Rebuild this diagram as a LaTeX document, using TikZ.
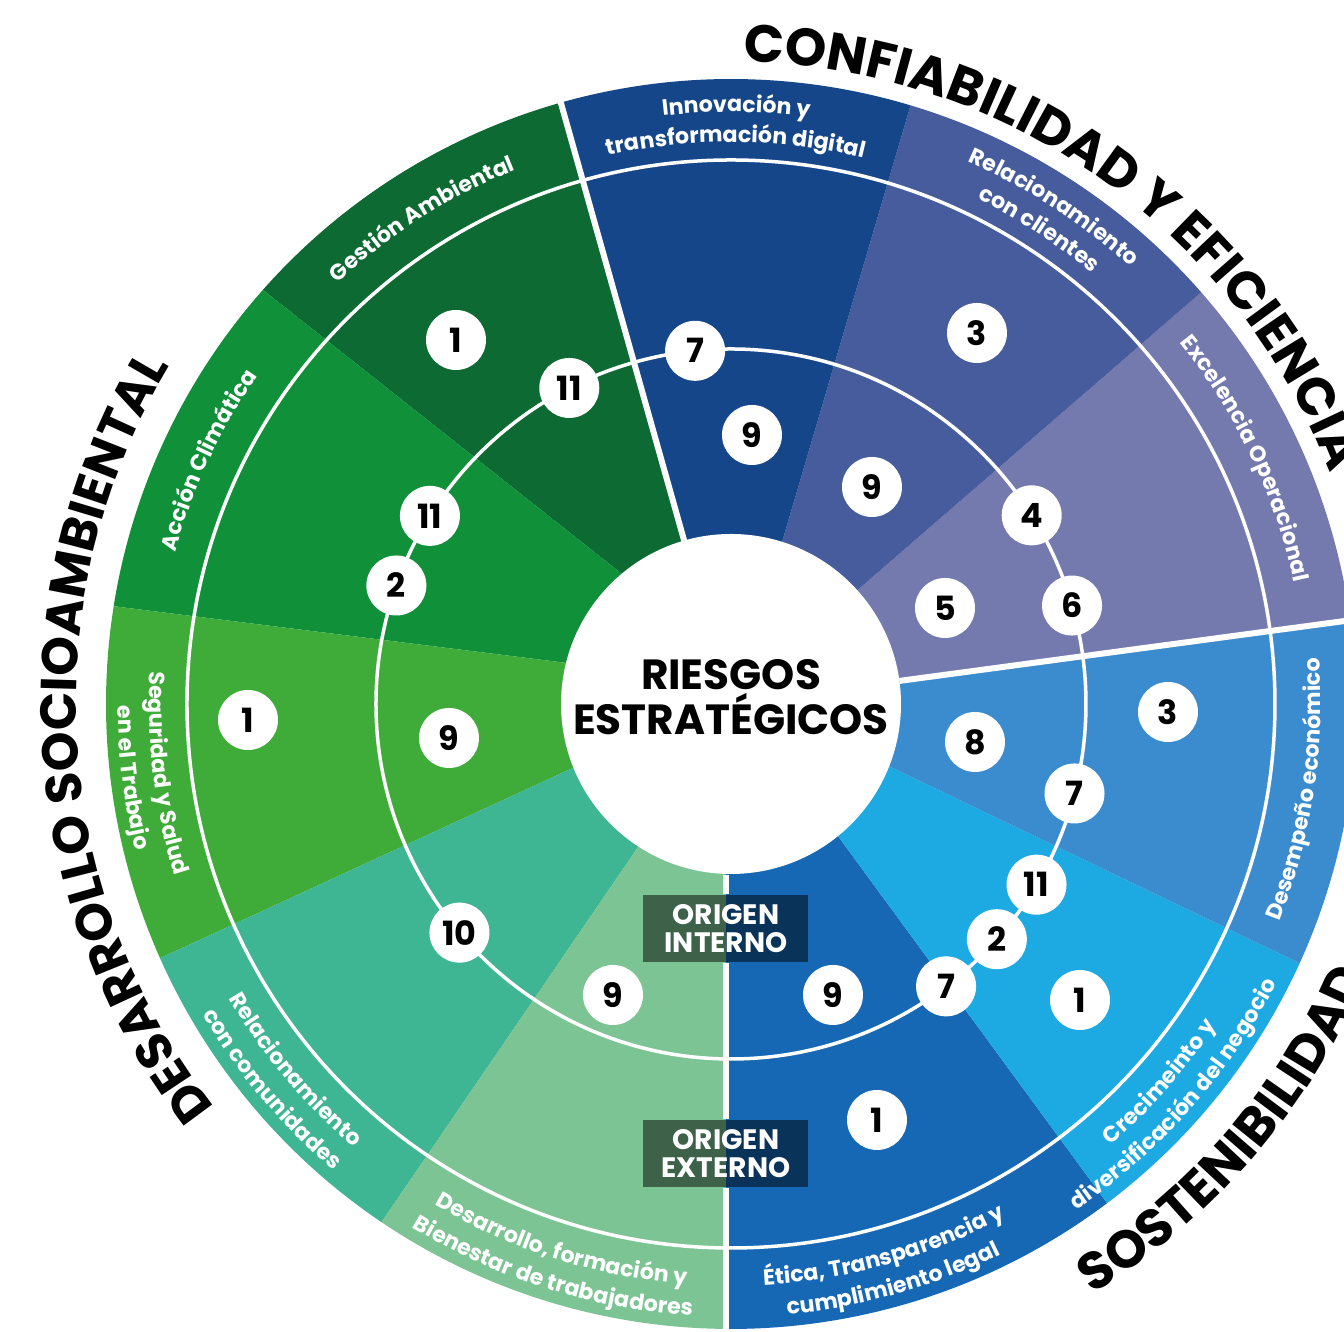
\documentclass[tikz,border=0pt]{standalone}
\usepackage{fontspec}
\setmainfont{Poppins}
\usetikzlibrary{decorations.text}

\definecolor{gestion}{RGB}{12,106,50}
\definecolor{accion}{RGB}{17,144,58}
\definecolor{seguridad}{RGB}{63,171,56}
\definecolor{comunidad}{RGB}{62,181,147}
\definecolor{bienestar}{RGB}{125,196,149}
\definecolor{etica}{RGB}{22,104,180}
\definecolor{crecimiento}{RGB}{29,170,227}
\definecolor{desempeno}{RGB}{59,139,207}
\definecolor{excelencia}{RGB}{116,121,174}
\definecolor{clientes}{RGB}{71,92,156}
\definecolor{innovacion}{RGB}{22,70,138}

% sector: colour, outer from/to, inner from/to
\newcommand\sector[5]{\fill[#1] (#4:1.7) -- (#2:6.25) arc[start angle=#2, end angle=#3, radius=6.25] -- (#5:1.7) -- (0,0) -- cycle;}
% white labels in the band: radius, centre angle, text
\newcommand\outlabel[3]{\path[decorate, decoration={text along path, text align=center, text color=white,
  text={|\fontsize{6.3}{7}\selectfont\bfseries|#3}}] (#2+35:#1) arc[start angle=#2+35, end angle=#2-35, radius=#1];}
\newcommand\inlabel[3]{\path[decorate, decoration={text along path, text align=center, text color=white,
  text={|\fontsize{6.3}{7}\selectfont\bfseries|#3}}] (#2-35:#1) arc[start angle=#2-35, end angle=#2+35, radius=#1];}
% black titles round the wheel: radius, centre angle, size, text
\newcommand\outtitle[4]{\path[decorate, decoration={text along path, text align=center,
  text={|\fontsize{#3}{#3}\selectfont\bfseries|#4}}] (#2+45:#1) arc[start angle=#2+45, end angle=#2-45, radius=#1];}
\newcommand\intitle[4]{\path[decorate, decoration={text along path, text align=center,
  text={|\fontsize{#3}{#3}\selectfont\bfseries|#4}}] (#2-45:#1) arc[start angle=#2-45, end angle=#2+45, radius=#1];}

\begin{document}
\begin{tikzpicture}[
    num/.style={circle, fill=white, minimum size=0.6cm, inner sep=0pt, font=\fontsize{9.5}{9.5}\selectfont\bfseries},
    origin/.style={fill=black, fill opacity=0.5, text opacity=1, text=white, minimum width=1.65cm,
      minimum height=0.67cm, inner sep=0pt, align=center, font=\fontsize{8}{8}\selectfont\bfseries},
    divider/.style={white, line width=0.06cm},
    ring/.style={white, line width=0.035cm}]

    \fill[white] (-7.31,-6.28) rectangle (6.13,7.04);
    \useasboundingbox (-7.31,-6.28) rectangle (6.13,7.04);

    % sectors
    \sector{etica}{-90.46}{-53}{-91.69}{-51}
    \sector{crecimiento}{-53}{-24.5}{-51}{-21.5}
    \sector{desempeno}{-24.5}{7.7}{-21.5}{7.8}
    \sector{excelencia}{7.7}{41.2}{7.8}{42}
    \sector{clientes}{41.2}{73.3}{42}{72.5}
    \sector{innovacion}{73.3}{105.8}{72.5}{106}
    \sector{gestion}{105.8}{138.5}{106}{130}
    \sector{accion}{138.5}{171}{130}{166}
    \sector{seguridad}{171}{204}{166}{202}
    \sector{comunidad}{204}{236}{202}{237}
    \sector{bienestar}{236}{269.54}{237}{268.31}

    \draw[ring] (0,0) circle[radius=5.44];
    \draw[ring] (0,0) circle[radius=3.55];
    \draw[divider] (7.8:1.7) -- (7.7:6.4);
    \draw[divider] (106:1.7) -- (105.8:6.3);

    \node[circle, fill=white, minimum size=3.4cm, inner sep=0pt] (core) at (0,0) {};
    \node[align=center, font=\fontsize{12}{13}\selectfont\bfseries] (riesgos) at (0,0.07) {RIESGOS\\ESTRATÉGICOS};

    \node[origin] (intern) at (-0.05,-2.245) {ORIGEN\\INTERNO};
    \node[origin] (extern) at (-0.05,-4.495) {ORIGEN\\EXTERNO};
    \draw[divider] (intern.north |- core.south) -- (intern.north);
    \draw[divider] (intern.south) -- (extern.north);
    \draw[divider] (extern.south) -- ++(0,-2);

    % numbers on the ring
    \node[num] (ring7a) at (95.8:3.55) {7};
    \node[num] (ring11a) at (117.1:3.55) {11};
    \node[num] (ring11b) at (148:3.55) {11};
    \node[num] (ring2a) at (160.5:3.55) {2};
    \node[num] (ring10) at (220.1:3.55) {10};
    \node[num] (ring7b) at (-52.7:3.55) {7};
    \node[num] (ring2b) at (-41.5:3.55) {2};
    \node[num] (ring11c) at (-30.6:3.55) {11};
    \node[num] (ring7c) at (-14.6:3.55) {7};
    \node[num] (ring6) at (16.1:3.55) {6};
    \node[num] (ring4) at (32.1:3.55) {4};
    % numbers inside the sectors
    \node[num] (gest1) at (-2.75,3.64) {1};
    \node[num] (innov9) at (0.21,2.69) {9};
    \node[num] (cli3) at (2.46,3.71) {3};
    \node[num] (cli9) at (1.41,2.17) {9};
    \node[num] (exc5) at (2.14,0.96) {5};
    \node[num] (seg1) at (-4.83,-0.16) {1};
    \node[num] (seg9) at (-2.82,-0.34) {9};
    \node[num] (des8) at (2.44,-0.38) {8};
    \node[num] (des3) at (4.37,-0.08) {3};
    \node[num] (cre1) at (3.49,-2.96) {1};
    \node[num] (bien9) at (-1.18,-2.91) {9};
    \node[num] (eti9) at (1.02,-2.91) {9};
    \node[num] (eti1) at (1.46,-4.16) {1};

    % band labels
    \outlabel{5.92}{89.5}{Innovación y}
    \outlabel{5.62}{89.5}{transformación digital}
    \outlabel{5.92}{57}{Relacionamiento}
    \outlabel{5.62}{57}{con clientes}
    \outlabel{5.76}{25.5}{Excelencia Operacional}
    \outlabel{5.76}{122.5}{Gestión Ambiental}
    \outlabel{5.76}{155}{Acción Climática}
    \inlabel{5.9}{-8.6}{Desempeño económico}
    \inlabel{5.82}{-41.4}{Crecimeinto y}
    \inlabel{6.13}{-41.4}{diversificación del negocio}
    \inlabel{5.82}{-74.3}{Ética, Transparencia y}
    \inlabel{6.13}{-74.3}{cumplimiento legal}
    \inlabel{5.82}{252.5}{Desarrollo, formación y}
    \inlabel{6.13}{252.5}{Bienestar de trabajadores}
    \inlabel{5.82}{220}{Relacionamiento}
    \inlabel{6.13}{220}{con comunidades}
    \inlabel{5.82}{187}{Seguridad y Salud}
    \inlabel{6.13}{187}{en el Trabajo}

    % titles
    \outtitle{6.42}{55}{15}{CONFIABILIDAD Y EFICIENCIA}
    \outtitle{6.55}{183.5}{14.4}{DESARROLLO SOCIOAMBIENTAL}
    \intitle{6.92}{-40.8}{15}{SOSTENIBILIDAD}
\end{tikzpicture}
\end{document}
